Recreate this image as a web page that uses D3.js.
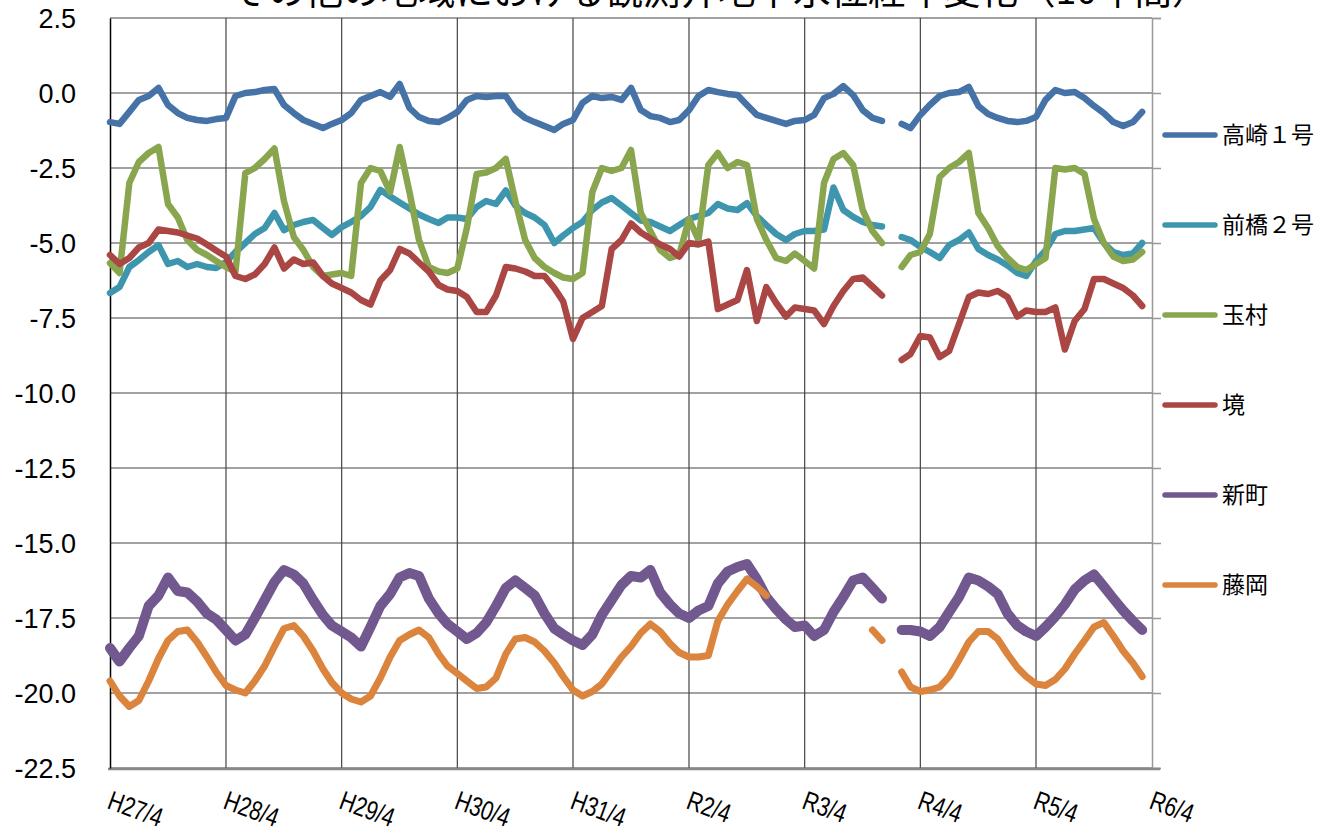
<!DOCTYPE html>
<html>
<head>
<meta charset="utf-8">
<script src="https://cdn.jsdelivr.net/npm/d3@7"></script>
<style>
  body { margin: 0; background: #fff; }
  text { font-family: "Liberation Sans", Arial, sans-serif; fill: #000; }
  .jp { font-family: "Noto Sans CJK JP", sans-serif; }
</style>
</head>
<body>
<svg id="chart" width="1333" height="836"></svg>
<script>
const title = 'その他の地域における観測井地下水位経年変化（10年間）';
const yearLabels = ['H27/4', 'H28/4', 'H29/4', 'H30/4', 'H31/4', 'R2/4', 'R3/4', 'R4/4', 'R5/4', 'R6/4'];
const yTicks = [2.5, 0, -2.5, -5, -7.5, -10, -12.5, -15, -17.5, -20, -22.5];
const seriesNames = ['高崎１号', '前橋２号', '玉村', '境', '新町', '藤岡'];

// monthly values from H27/4 (one row per year)
const takasaki1 = [
  -0.97,-1.03,-0.63,-0.23,-0.1,0.17,-0.4,-0.67,-0.83,-0.9,-0.93,-0.87,
  -0.83,-0.1,0,0.03,0.1,0.13,-0.4,-0.67,-0.9,-1.03,-1.17,-1.03,
  -0.9,-0.67,-0.23,-0.1,0.03,-0.13,0.3,-0.5,-0.8,-0.93,-0.97,-0.83,
  -0.63,-0.23,-0.1,-0.13,-0.1,-0.1,-0.57,-0.83,-0.97,-1.1,-1.23,-1.03,
  -0.9,-0.33,-0.1,-0.17,-0.13,-0.23,0.17,-0.57,-0.77,-0.83,-0.97,-0.9,
  -0.57,-0.1,0.1,0.03,-0.03,-0.07,-0.4,-0.73,-0.83,-0.93,-1.03,-0.93,
  -0.9,-0.73,-0.17,-0.03,0.23,-0.07,-0.57,-0.83,-0.93,null,-1.03,-1.17,
  -0.73,-0.4,-0.1,0,0.03,0.2,-0.43,-0.7,-0.83,-0.93,-0.97,-0.93,
  -0.8,-0.23,0.1,0,0.03,-0.17,-0.43,-0.67,-0.97,-1.1,-0.97,-0.63
];
const maebashi2 = [
  -6.67,-6.47,-5.8,-5.57,-5.3,-5.07,-5.7,-5.6,-5.8,-5.7,-5.8,-5.83,
  -5.63,-5.3,-5.0,-4.7,-4.5,-4.0,-4.57,-4.4,-4.3,-4.23,-4.5,-4.73,
  -4.47,-4.3,-4.1,-3.8,-3.23,-3.45,-3.65,-3.85,-4.05,-4.2,-4.33,-4.15,
  -4.15,-4.2,-3.8,-3.6,-3.7,-3.25,-3.75,-4.0,-4.15,-4.4,-5.0,-4.75,
  -4.5,-4.3,-3.9,-3.65,-3.5,-3.75,-4.0,-4.25,-4.3,-4.45,-4.6,-4.4,
  -4.2,-4.1,-4.0,-3.7,-3.85,-3.9,-3.67,-4.1,-4.4,-4.7,-4.9,-4.7,
  -4.6,-4.6,-4.55,-3.15,-3.9,-4.13,-4.3,-4.4,-4.45,null,-4.8,-4.9,
  -5.13,-5.3,-5.5,-5.07,-4.9,-4.65,-5.2,-5.4,-5.55,-5.75,-6.0,-6.1,
  -5.6,-5.25,-4.7,-4.6,-4.6,-4.55,-4.5,-5.0,-5.3,-5.4,-5.35,-5.0
];
const tamamura = [
  -5.67,-6.0,-3.0,-2.3,-2.0,-1.8,-3.7,-4.15,-4.9,-5.23,-5.4,-5.6,
  -5.8,-5.95,-2.67,-2.5,-2.2,-1.85,-3.6,-4.8,-5.23,-5.8,-6.1,-6.05,
  -6.0,-6.1,-3.0,-2.5,-2.6,-3.3,-1.8,-3.3,-4.9,-5.8,-5.95,-6.0,
  -5.85,-4.5,-2.7,-2.65,-2.5,-2.2,-3.6,-4.9,-5.5,-5.8,-6.0,-6.15,
  -6.2,-6.0,-3.3,-2.5,-2.6,-2.5,-1.9,-4.0,-4.6,-5.23,-5.5,-5.4,
  -4.2,-4.9,-2.4,-2.0,-2.5,-2.3,-2.4,-4.2,-4.9,-5.5,-5.6,-5.35,
  -5.6,-5.85,-3.0,-2.2,-2.0,-2.4,-3.9,-4.6,-5.0,null,-5.8,-5.4,
  -5.3,-4.7,-2.8,-2.5,-2.3,-2.0,-4.0,-4.5,-5.1,-5.5,-5.8,-5.9,
  -5.7,-5.5,-2.5,-2.55,-2.5,-2.7,-4.2,-5.0,-5.45,-5.6,-5.55,-5.3
];
const sakai = [
  -5.4,-5.7,-5.5,-5.15,-5.0,-4.55,-4.6,-4.65,-4.75,-4.85,-5.05,-5.25,
  -5.45,-6.1,-6.2,-6.05,-5.7,-5.15,-5.85,-5.55,-5.7,-5.65,-6.1,-6.35,
  -6.5,-6.65,-6.9,-7.05,-6.25,-5.9,-5.2,-5.35,-5.65,-5.95,-6.4,-6.55,
  -6.6,-6.8,-7.3,-7.3,-6.75,-5.8,-5.85,-5.95,-6.1,-6.1,-6.5,-6.95,
  -8.2,-7.5,-7.3,-7.1,-5.2,-4.9,-4.35,-4.65,-4.85,-5.05,-5.2,-5.45,
  -5.0,-5.05,-4.95,-7.2,-7.05,-6.9,-5.9,-7.6,-6.47,-7.0,-7.45,-7.15,
  -7.2,-7.25,-7.7,-7.1,-6.6,-6.2,-6.15,-6.45,-6.75,null,-8.9,-8.7,
  -8.1,-8.15,-8.8,-8.6,-7.7,-6.8,-6.65,-6.7,-6.6,-6.8,-7.45,-7.25,
  -7.3,-7.3,-7.15,-8.55,-7.6,-7.2,-6.2,-6.2,-6.35,-6.5,-6.75,-7.1
];
const shinmachi = [
  -18.5,-18.95,-18.5,-18.1,-17.1,-16.75,-16.15,-16.6,-16.65,-16.95,-17.35,-17.55,
  -17.9,-18.25,-18.05,-17.5,-16.9,-16.3,-15.9,-16.05,-16.35,-16.9,-17.4,-17.75,
  -17.95,-18.15,-18.45,-17.8,-17.1,-16.7,-16.15,-16.0,-16.1,-16.85,-17.35,-17.7,
  -17.95,-18.2,-18.0,-17.65,-17.1,-16.5,-16.25,-16.5,-16.75,-17.35,-17.85,-18.05,
  -18.25,-18.4,-18.05,-17.4,-16.9,-16.4,-16.1,-16.15,-15.9,-16.65,-17.05,-17.35,
  -17.5,-17.25,-17.1,-16.35,-15.95,-15.8,-15.7,-16.2,-16.8,-17.2,-17.55,-17.8,
  -17.75,-18.1,-17.9,-17.3,-16.8,-16.25,-16.15,-16.5,-16.85,null,-17.9,-17.9,
  -17.95,-18.1,-17.8,-17.3,-16.8,-16.15,-16.25,-16.45,-16.7,-17.35,-17.75,-17.95,
  -18.1,-17.8,-17.45,-17.05,-16.55,-16.25,-16.05,-16.45,-16.85,-17.25,-17.6,-17.9
];
const fujioka = [
  -19.6,-20.1,-20.45,-20.25,-19.6,-18.85,-18.25,-17.95,-17.9,-18.3,-18.8,-19.3,
  -19.75,-19.9,-20.0,-19.6,-19.1,-18.45,-17.85,-17.75,-18.1,-18.6,-19.2,-19.65,
  -20.0,-20.2,-20.3,-20.1,-19.5,-18.8,-18.25,-18.05,-17.9,-18.15,-18.7,-19.1,
  -19.35,-19.6,-19.85,-19.8,-19.5,-18.7,-18.2,-18.15,-18.3,-18.6,-19.0,-19.45,
  -19.9,-20.1,-19.95,-19.7,-19.25,-18.8,-18.45,-18.0,-17.7,-17.95,-18.35,-18.65,
  -18.8,-18.8,-18.75,-17.6,-17.05,-16.6,-16.2,-16.45,-16.75,null,null,null,
  null,null,null,null,null,null,null,-17.9,-18.25,null,-19.3,-19.8,
  -19.95,-19.9,-19.8,-19.45,-18.9,-18.3,-17.95,-17.95,-18.2,-18.7,-19.15,-19.45,
  -19.7,-19.75,-19.55,-19.2,-18.7,-18.25,-17.8,-17.65,-18.1,-18.6,-19.0,-19.45
];

const allSeries = [takasaki1, maebashi2, tamamura, sakai, shinmachi, fujioka];
const colors = ['#4572A7', '#3D96AE', '#89A54E', '#AA4643', '#71588F', '#DB843D'];
const widths = [6.5, 6.5, 6.5, 6.5, 10, 7];

const svg = d3.select('#chart');
const plotLeft = 110, plotRight = 1152, plotTop = 18, plotBottom = 768;

const start = new Date(2015, 3, 1);
const yearTicks = yearLabels.map((d, i) => d3.timeYear.offset(start, i));

const x = d3.scaleTime().domain([start, yearTicks[yearTicks.length - 1]]).range([plotLeft, plotRight]);
const y = d3.scaleLinear().domain([-22.5, 2.5]).range([plotBottom, plotTop]);

// title (cut off at the top like the original)
svg.append('text').attr('class', 'jp')
  .attr('x', 720).attr('y', 4)
  .attr('text-anchor', 'middle')
  .style('font-size', '37.5px')
  .text(title);

// grid
const grid = svg.append('g');
grid.selectAll('.hg').data(yTicks).enter().append('line')
  .attr('x1', plotLeft).attr('x2', plotRight)
  .attr('y1', d => y(d)).attr('y2', d => y(d))
  .attr('stroke', '#444').attr('stroke-width', 1.2);
grid.selectAll('.vg').data(yearTicks.slice(1, -1)).enter().append('line')
  .attr('x1', d => x(d)).attr('x2', d => x(d))
  .attr('y1', plotTop).attr('y2', plotBottom)
  .attr('stroke', '#444').attr('stroke-width', 1.2);

// right axis (grey)
const yRight = d3.axisRight(y).tickValues(yTicks).tickSize(9).tickFormat('');
const gr = svg.append('g').attr('transform', 'translate(' + plotRight + ',0)').call(yRight);
gr.selectAll('line').attr('stroke', '#999').attr('stroke-width', 1.5);
gr.select('.domain').attr('stroke', '#999').attr('stroke-width', 1.5);

// bottom axis line
svg.append('line')
  .attr('x1', plotLeft - 2).attr('x2', plotRight + 8)
  .attr('y1', plotBottom + 1).attr('y2', plotBottom + 1)
  .attr('stroke', '#888').attr('stroke-width', 2.5);

// left axis
const yLeft = d3.axisLeft(y).tickValues(yTicks).tickSize(0).tickPadding(34)
  .tickFormat(d => d.toFixed(1));
const gl = svg.append('g').attr('transform', 'translate(' + plotLeft + ',0)').call(yLeft);
gl.select('.domain').attr('stroke', '#000').attr('stroke-width', 1.5);
gl.selectAll('text').style('font-size', '27px').attr('dy', '0.35em')
  .style('font-family', '"Liberation Sans", Arial, sans-serif');

// x labels, slanted
svg.selectAll('.xl').data(yearTicks).enter().append('text')
  .attr('transform', (d, i) => 'translate(' + (x(d) - 4) + ',808) rotate(20) scale(0.78,1)')
  .style('font-size', '27px')
  .text((d, i) => yearLabels[i]);

// series
const months = d3.range(takasaki1.length).map(i => d3.timeMonth.offset(start, i));
const line = d3.line()
  .defined(d => d != null)
  .x((d, i) => x(months[i]))
  .y(d => y(d));

allSeries.forEach((s, k) => {
  svg.append('path')
    .datum(s)
    .attr('fill', 'none')
    .attr('stroke', colors[k])
    .attr('stroke-width', widths[k])
    .attr('stroke-linejoin', 'round')
    .attr('stroke-linecap', 'round')
    .attr('d', line);
});

// legend
const legend = svg.append('g');
seriesNames.forEach((name, k) => {
  const ly = 135 + k * 90;
  legend.append('line')
    .attr('x1', 1165).attr('x2', 1215).attr('y1', ly).attr('y2', ly)
    .attr('stroke', colors[k]).attr('stroke-width', 5.5).attr('stroke-linecap', 'round');
  legend.append('text').attr('class', 'jp')
    .attr('x', 1222).attr('y', ly).attr('dy', '0.36em')
    .style('font-size', '23px')
    .text(name);
});
</script>
</body>
</html>
